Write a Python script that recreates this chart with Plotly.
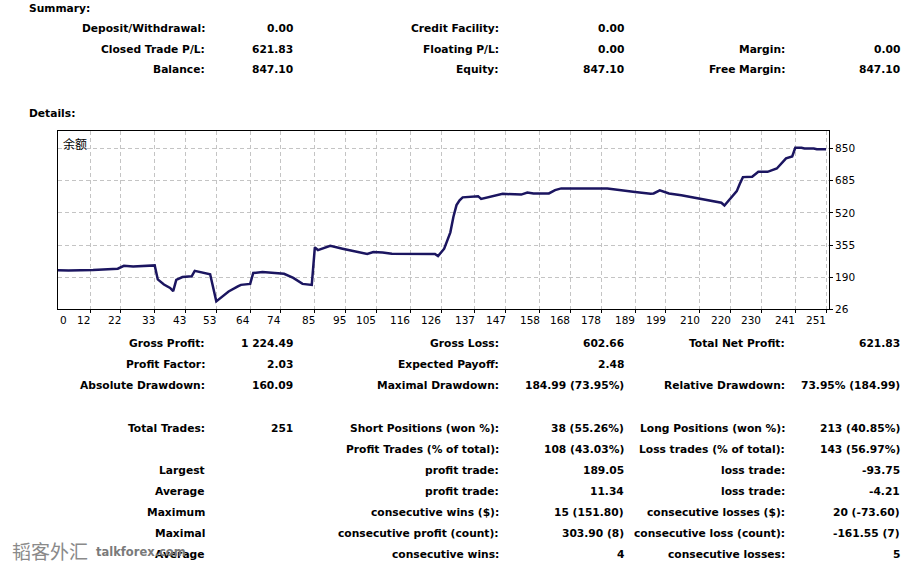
import plotly.graph_objects as go

# ---------------- data ----------------
trade_no = [0, 5, 13, 21, 23, 26, 33, 34, 36, 38, 39, 40, 42, 45, 46, 48, 51, 53, 55, 57,
            60, 61, 64, 65, 68, 75, 78, 81, 84, 85, 86, 90, 94, 99, 102, 104, 107, 110,
            116, 124, 125, 127, 129, 130, 131, 132, 133, 137, 138, 139, 141, 143, 146, 152,
            154, 156, 161, 163, 165, 180, 184, 189, 194, 195, 197, 200, 204, 209, 214, 217,
            218, 220, 222, 223, 224, 227, 229, 232, 235, 238, 240, 241, 243, 244, 247, 248, 251]
balance = [225.27, 224, 227, 233, 248, 245, 250.15, 178, 152, 134, 118, 176, 190, 194, 222, 214, 205, 65.18, 90, 116,
           142, 150, 155, 211, 216, 207, 186, 155, 150, 343, 329, 351, 336, 319, 309, 319, 317, 310,
           309, 309, 298, 336, 420, 500, 560, 585, 600, 602, 606, 592, 599, 609, 618, 614,
           625, 620, 620, 637, 646, 646, 636, 627, 618, 620, 636, 620, 611, 597, 583, 572,
           558, 595, 632, 670, 704, 706, 731, 731, 748, 800, 810, 855, 855, 851, 851, 847.10, 847.10]

x_tick_labels = [0, 12, 22, 33, 43, 53, 64, 74, 85, 95, 105, 116, 126, 137, 147, 158, 168,
                 178, 189, 199, 210, 220, 230, 241, 251]
y_tick_labels = [26, 190, 355, 520, 685, 850]

summary_c1_labels = ["Deposit/Withdrawal:", "Closed Trade P/L:", "Balance:"]
summary_c1_values = ["0.00", "621.83", "847.10"]
summary_c2_labels = ["Credit Facility:", "Floating P/L:", "Equity:"]
summary_c2_values = ["0.00", "0.00", "847.10"]
summary_c3_labels = ["", "Margin:", "Free Margin:"]
summary_c3_values = ["", "0.00", "847.10"]

details_c1_labels = ["Gross Profit:", "Profit Factor:", "Absolute Drawdown:", "Total Trades:", "",
                     "Largest", "Average", "Maximum", "Maximal", "Average"]
details_c1_values = ["1 224.49", "2.03", "160.09", "251", "", "", "", "", "", ""]
details_c2_labels = ["Gross Loss:", "Expected Payoff:", "Maximal Drawdown:", "Short Positions (won %):",
                     "Profit Trades (% of total):", "profit trade:", "profit trade:",
                     "consecutive wins ($):", "consecutive profit (count):", "consecutive wins:"]
details_c2_values = ["602.66", "2.48", "184.99 (73.95%)", "38 (55.26%)", "108 (43.03%)", "189.05",
                     "11.34", "15 (151.80)", "303.90 (8)", "4"]
details_c3_labels = ["Total Net Profit:", "", "Relative Drawdown:", "Long Positions (won %):",
                     "Loss trades (% of total):", "loss trade:", "loss trade:",
                     "consecutive losses ($):", "consecutive loss (count):", "consecutive losses:"]
details_c3_values = ["621.83", "", "73.95% (184.99)", "213 (40.85%)", "143 (56.97%)", "-93.75",
                     "-4.21", "20 (-73.60)", "-161.55 (7)", "5"]

# ---------------- layout geometry (pixels in the 918x566 window) ----------------
W, H = 918, 566
PL, PR, PT, PB = 58, 829, 131, 309
FONT = "DejaVu Sans"
TXT = 10.7


def fx(px):
    return (px - PL) / (PR - PL)


def fy(py):
    return (PB - py) / (PB - PT)


fig = go.Figure()
fig.add_trace(go.Scatter(x=trade_no, y=balance, mode="lines",
                         line=dict(color="#1b1560", width=2.5), hoverinfo="skip",
                         showlegend=False))

ann = []


def text(s, px, py, anchor="right", size=TXT, bold=True, color="#000000", family=FONT):
    if not s:
        return
    ann.append(dict(text=("<b>%s</b>" % s) if bold else s, xref="paper", yref="paper",
                    x=fx(px), y=fy(py), xanchor=anchor, yanchor="middle",
                    showarrow=False, font=dict(family=family, size=size, color=color)))


text("Summary:", 27, 8, anchor="left")
text("Details:", 27, 113, anchor="left")

sum_rows = [28, 49, 70]
for i, y in enumerate(sum_rows):
    text(summary_c1_labels[i], 207, y)
    text(summary_c1_values[i], 295, y)
    text(summary_c2_labels[i], 501, y)
    text(summary_c2_values[i], 626, y)
    text(summary_c3_labels[i], 787, y)
    text(summary_c3_values[i], 902, y)

det_rows = [343, 364, 385, 428, 449, 470, 491, 512, 533, 554]
for i, y in enumerate(det_rows):
    text(details_c1_labels[i], 207, y)
    text(details_c1_values[i], 295, y)
    text(details_c2_labels[i], 501, y)
    text(details_c2_values[i], 626, y)
    text(details_c3_labels[i], 787, y)
    text(details_c3_values[i], 902, y)

# x tick labels (right-aligned to their gridline, first one at left edge)
x_lo, x_hi = 1.6, 251.95
for i, v in enumerate(x_tick_labels):
    if i == 0:
        ann.append(dict(text=str(v), xref="paper", yref="paper", x=0, y=fy(319.5),
                        xanchor="left", yanchor="middle", showarrow=False,
                        font=dict(family=FONT, size=10.5, color="#000000")))
    else:
        ann.append(dict(text=str(v), xref="x", yref="paper", x=v, y=fy(319.5),
                        xanchor="right", yanchor="middle", xshift=2, showarrow=False,
                        font=dict(family=FONT, size=10.5, color="#000000")))

# chart title inside plot
text("余额", 61, 143, anchor="left", size=12, bold=False, family="Noto Sans CJK SC")

# watermark
text("韬客外汇", 10, 550, anchor="left", size=19, bold=False, color="#8a8a8a",
     family="Noto Sans CJK SC")
text("talkforex.com", 94, 552, anchor="left", size=11.5, bold=True, color="#7a7a7a")

fig.update_layout(
    width=W, height=H,
    margin=dict(l=PL, r=W - PR, t=PT, b=H - PB, pad=0),
    paper_bgcolor="white", plot_bgcolor="white",
    annotations=ann,
    font=dict(family=FONT, size=10.5, color="#000000"),
    xaxis=dict(range=[x_lo, x_hi], tickvals=x_tick_labels[1:], showticklabels=False,
               showgrid=True, gridcolor="#c4c4c4", griddash="4px,3px", gridwidth=1,
               zeroline=False, showline=True, linecolor="#000000", linewidth=1, mirror=True,
               ticks="outside", ticklen=3, tickcolor="#000000"),
    yaxis=dict(range=[26, 941], tickvals=y_tick_labels, ticktext=[str(v) for v in y_tick_labels],
               side="right", showgrid=True, gridcolor="#c4c4c4", griddash="4px,3px", gridwidth=1,
               zeroline=False, showline=True, linecolor="#000000", linewidth=1, mirror=True,
               ticks="outside", ticklen=3, tickcolor="#000000",
               tickfont=dict(family=FONT, size=10.5, color="#000000")),
)

# remove the browser's default 8px page margin so the figure fills the window exactly
fig.write_html("out.html", config={"displayModeBar": False},
               post_script="document.body.style.margin='0px';document.body.style.overflow='hidden';")
